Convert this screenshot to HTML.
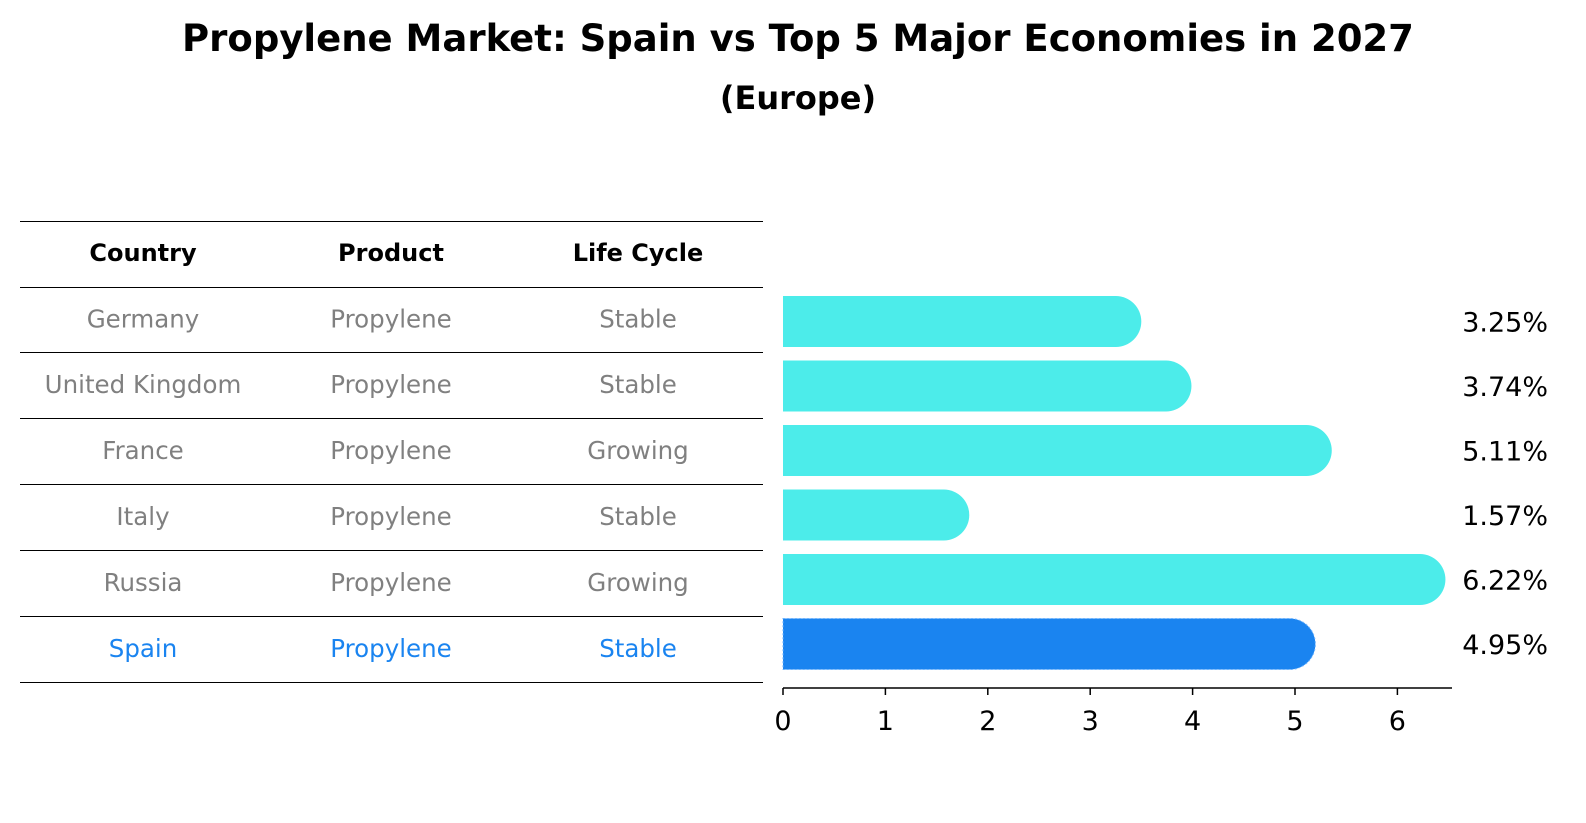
<!DOCTYPE html>
<html><head><meta charset="utf-8"><style>
body{margin:0;background:#fff;font-family:"Liberation Sans","DejaVu Sans",sans-serif;}
#wrap{position:relative;width:1586px;height:823px;overflow:hidden;}
</style></head><body>
<div id="wrap">
<svg id="svg" width="1586" height="823" xmlns="http://www.w3.org/2000/svg">
<text x="798" y="51" text-anchor="middle" font-family="DejaVu Sans, sans-serif" font-weight="bold" font-size="37">Propylene Market: Spain vs Top 5 Major Economies in 2027</text>
<text x="798" y="109" text-anchor="middle" font-family="DejaVu Sans, sans-serif" font-weight="bold" font-size="32">(Europe)</text>
<g id="table"></g>
<g id="bars"></g>
</svg>
</div>
<script>
const countries=["Germany","United Kingdom","France","Italy","Russia","Spain"];
const products=["Propylene","Propylene","Propylene","Propylene","Propylene","Propylene"];
const lifeCycles=["Stable","Stable","Growing","Stable","Growing","Stable"];
const values=[3.25,3.74,5.11,1.57,6.22,4.95];
const valueLabels=["3.25%","3.74%","5.11%","1.57%","6.22%","4.95%"];
const xTicks=[0,1,2,3,4,5,6];

const NS="http://www.w3.org/2000/svg";
const tbl=document.getElementById('table');
const bars=document.getElementById('bars');
function mk(tag,attrs,parent,text){const e=document.createElementNS(NS,tag);for(const k in attrs)e.setAttribute(k,attrs[k]);if(text!==undefined)e.textContent=text;parent.appendChild(e);return e;}
const font='DejaVu Sans, sans-serif';
const lineYs=[221,287,352,418,484,550,616,682];
lineYs.forEach(y=>{const l=mk('line',{x1:20,x2:763,y1:y+0.5,y2:y+0.5,stroke:'#000','stroke-width':1},tbl);

});
const colX=[143,391,638];
const heads=["Country","Product","Life Cycle"];
heads.forEach((h,i)=>{const t=mk('text',{x:colX[i],y:261,'text-anchor':'middle','font-family':font,'font-weight':'bold','font-size':24},tbl,h);

});
const rowY=i=>(lineYs[i+1]+lineYs[i+2])/2+8;
countries.forEach((c,i)=>{
 const col=c==="Spain"?'#1a84f0':'#808080';
 [c,products[i],lifeCycles[i]].forEach((v,j)=>{
  const t=mk('text',{x:colX[j],y:rowY(i),'text-anchor':'middle','font-family':font,'font-size':24.5,fill:col},tbl,v);
  
  
 });
});
const x0=783, unit=102.4;
const xs=v=>x0+v*unit;
const yc=i=>321.5+i*64.5;
const bh=51, r=25.5;
values.forEach((v,i)=>{
 const spain=countries[i]==="Spain";
 const col=spain?'#1a84f0':'#4cecea';
 const xe=xs(v), top=yc(i)-bh/2;
 const p=mk('path',{d:`M${x0},${top} H${xe} A${r},${r} 0 0 1 ${xe},${top+bh} H${x0} Z`,fill:col},bars);
 if(spain){p.setAttribute('stroke','#6fb4ff');p.setAttribute('stroke-dasharray','2,2');p.setAttribute('stroke-width','1');}
 
 
 const t=mk('text',{x:1548,y:yc(i)+10,'text-anchor':'end','font-family':font,'font-size':27},bars,valueLabels[i]);
 
 
});
const ax=mk('line',{x1:x0,x2:1452,y1:688,y2:688,stroke:'#000','stroke-width':1.5},bars);


xTicks.forEach(v=>{
 const tk=mk('line',{x1:xs(v),x2:xs(v),y1:688,y2:695,stroke:'#000','stroke-width':1.5},bars);
 
 
 const t=mk('text',{x:xs(v),y:730,'text-anchor':'middle','font-family':font,'font-size':27},bars,String(v));
 
 
});
</script>
</body></html>
